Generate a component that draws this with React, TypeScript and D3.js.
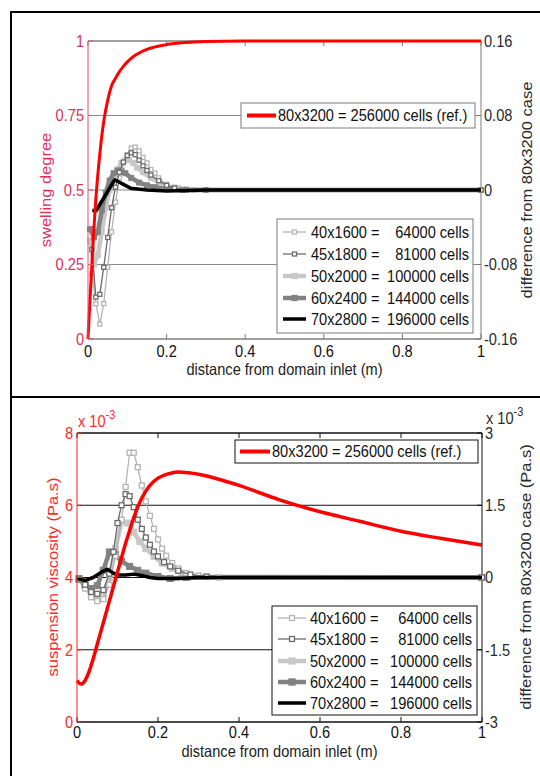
import React from 'react';
import * as d3 from 'd3';

const FONT = "'Liberation Sans', Arial, Helvetica, sans-serif";
const FS = 14.6;
const STRETCH = 1.13;

// ---------------- shared ----------------
const xTickValues = [0, 0.2, 0.4, 0.6, 0.8, 1];
const xTickLabels = ['0', '0.2', '0.4', '0.6', '0.8', '1'];
const xAxisTitle = 'distance from domain inlet (m)';
const refLegendLabel = '80x3200 = 256000 cells (ref.)';
const gridLegendLeft = ['40x1600 =', '45x1800 =', '50x2000 =', '60x2400 =', '70x2800 ='];
const gridLegendRight = ['64000 cells', '81000 cells', '100000 cells', '144000 cells', '196000 cells'];

// ---------------- top panel: swelling degree ----------------
const topLeftTicks = [0, 0.25, 0.5, 0.75, 1];
const topLeftTickLabels = ['0', '0.25', '0.5', '0.75', '1'];
const topRightTicks = [-0.16, -0.08, 0, 0.08, 0.16];
const topRightTickLabels = ['-0.16', '-0.08', '0', '0.08', '0.16'];
const topLeftTitle = 'swelling degree';
const topRightTitle = 'difference from 80x3200 case';

const topRefX = [0, 0.005, 0.01, 0.015, 0.02, 0.03, 0.04, 0.05, 0.06, 0.07, 0.08, 0.09, 0.1, 0.12, 0.15, 0.2, 0.25, 0.3, 0.4, 1.0];
const topRefY = [0, 0.13, 0.25, 0.37, 0.47, 0.62, 0.73, 0.8, 0.85, 0.875, 0.897, 0.915, 0.93, 0.952, 0.972, 0.988, 0.995, 0.998, 1, 1];

const top40X = [0.01, 0.02, 0.03, 0.04, 0.05, 0.06, 0.07, 0.08, 0.09, 0.1, 0.11, 0.12, 0.13, 0.14, 0.15, 0.16, 0.17, 0.18, 0.2, 0.22, 0.25, 0.3, 1.0];
const top40Y = [-0.09, -0.122, -0.144, -0.122, -0.083, -0.045, -0.013, 0.013, 0.029, 0.038, 0.045, 0.046, 0.042, 0.035, 0.029, 0.022, 0.018, 0.013, 0.006, 0.003, 0.001, 0, 0];

const top45X = [0.01, 0.02, 0.03, 0.04, 0.05, 0.06, 0.07, 0.08, 0.09, 0.1, 0.11, 0.12, 0.13, 0.14, 0.15, 0.16, 0.18, 0.2, 0.22, 0.25, 0.3, 1.0];
const top45Y = [-0.064, -0.115, -0.112, -0.083, -0.051, -0.019, 0.003, 0.019, 0.03, 0.037, 0.04, 0.038, 0.032, 0.026, 0.021, 0.016, 0.01, 0.005, 0.002, 0, 0, 0];

const top50X = [0.005, 0.015, 0.025, 0.035, 0.045, 0.055, 0.065, 0.075, 0.085, 0.095, 0.105, 0.115, 0.125, 0.14, 0.16, 0.18, 0.2, 0.23, 0.27, 1.0];
const top50Y = [-0.054, -0.08, -0.07, -0.045, -0.019, 0, 0.013, 0.022, 0.029, 0.032, 0.032, 0.029, 0.024, 0.019, 0.013, 0.008, 0.004, 0.002, 0, 0];

const top60X = [0.005, 0.015, 0.025, 0.035, 0.045, 0.055, 0.065, 0.075, 0.085, 0.095, 0.11, 0.13, 0.15, 0.17, 0.2, 0.24, 1.0];
const top60Y = [-0.042, -0.051, -0.045, -0.022, -0.003, 0.01, 0.018, 0.021, 0.021, 0.018, 0.013, 0.008, 0.005, 0.003, 0.001, 0, 0];

const top70X = [0.011, 0.021, 0.068, 0.108, 0.15, 0.2, 0.3, 1.0];
const top70Y = [-0.022, -0.022, 0.011, 0.002, 0, -0.001, 0, 0];

// ---------------- bottom panel: suspension viscosity (x 10^-3) ----------------
const botLeftTicks = [0, 2, 4, 6, 8];
const botLeftTickLabels = ['0', '2', '4', '6', '8'];
const botRightTicks = [-3, -1.5, 0, 1.5, 3];
const botRightTickLabels = ['-3', '-1.5', '0', '1.5', '3'];
const botLeftTitle = 'suspension viscosity (Pa.s)';
const botRightTitle = 'difference from 80x3200 case (Pa.s)';

const botRefX = [0, 0.01, 0.02, 0.03, 0.04, 0.05, 0.06, 0.07, 0.08, 0.09, 0.1, 0.11, 0.12, 0.13, 0.14, 0.15, 0.16, 0.18, 0.2, 0.225, 0.25, 0.275, 0.3, 0.35, 0.4, 0.5, 0.6, 0.7, 0.8, 0.9, 1.0];
const botRefY = [1.15, 1.05, 1.15, 1.4, 1.75, 2.15, 2.55, 2.95, 3.35, 3.75, 4.15, 4.55, 4.95, 5.3, 5.65, 5.95, 6.2, 6.55, 6.75, 6.87, 6.92, 6.9, 6.86, 6.72, 6.55, 6.15, 5.82, 5.55, 5.28, 5.08, 4.9];

const bot40X = [0.005, 0.02, 0.035, 0.05, 0.065, 0.08, 0.095, 0.11, 0.12, 0.13, 0.14, 0.15, 0.16, 0.17, 0.18, 0.19, 0.2, 0.21, 0.22, 0.235, 0.25, 0.27, 0.3, 0.35, 1.0];
const bot40Y = [-0.04, -0.23, -0.41, -0.49, -0.45, -0.15, 0.45, 1.2, 1.88, 2.59, 2.59, 2.29, 1.91, 1.58, 1.28, 1.01, 0.79, 0.6, 0.45, 0.3, 0.19, 0.09, 0.04, 0, 0];

const bot45X = [0.005, 0.02, 0.035, 0.05, 0.065, 0.08, 0.09, 0.1, 0.11, 0.12, 0.13, 0.14, 0.15, 0.16, 0.17, 0.18, 0.19, 0.2, 0.215, 0.23, 0.25, 0.28, 0.32, 1.0];
const bot45Y = [-0.04, -0.15, -0.3, -0.34, -0.26, 0.08, 0.53, 1.13, 1.5, 1.73, 1.69, 1.46, 1.2, 1.01, 0.83, 0.68, 0.54, 0.44, 0.32, 0.23, 0.14, 0.06, 0.02, 0];

const bot50X = [0.005, 0.02, 0.035, 0.05, 0.065, 0.08, 0.095, 0.11, 0.125, 0.14, 0.155, 0.17, 0.19, 0.21, 0.235, 0.26, 0.3, 1.0];
const bot50Y = [-0.04, -0.19, -0.34, -0.41, -0.34, 0, 0.6, 1.16, 1.13, 0.94, 0.75, 0.6, 0.44, 0.3, 0.19, 0.09, 0.02, 0];

const bot60X = [0.005, 0.02, 0.035, 0.05, 0.065, 0.08, 0.095, 0.11, 0.13, 0.15, 0.17, 0.2, 0.23, 0.27, 1.0];
const bot60Y = [-0.02, -0.15, -0.23, -0.17, 0.15, 0.53, 0.47, 0.34, 0.23, 0.15, 0.09, 0.02, -0.02, 0, 0];

const bot70X = [0, 0.02, 0.04, 0.06, 0.075, 0.09, 0.1, 0.12, 0.14, 0.16, 0.18, 0.2, 0.25, 0.3, 1.0];
const bot70Y = [-0.02, -0.06, 0, 0.11, 0.17, 0.09, 0.05, 0.05, 0.07, 0.04, 0, -0.02, -0.02, 0, 0];

// ---------------- styles ----------------
type Style = { color: string; width: number; marker: 'open' | 'filled' | 'none'; size: number };
const gridStyles: Style[] = [
  { color: '#b4b4b4', width: 1.3, marker: 'open', size: 4.5 },
  { color: '#6c6c6c', width: 1.3, marker: 'open', size: 4.5 },
  { color: '#c8c8c8', width: 4.5, marker: 'filled', size: 5.5 },
  { color: '#828282', width: 4.5, marker: 'filled', size: 5.5 },
  { color: '#000000', width: 3.5, marker: 'none', size: 0 },
];
const drawOrder = [2, 3, 0, 1, 4];

// text with the reference's vertical stretch
function T(props: { x: number; y: number; anchor?: string; fill: string; rot?: boolean; mid?: boolean; children: React.ReactNode }) {
  const { x, y, anchor, fill, rot, mid, children } = props;
  const tr = rot
    ? `translate(${x},${y}) scale(1,${STRETCH}) rotate(-90)`
    : `translate(${x},${y}) scale(1,${STRETCH})`;
  return (
    <text transform={tr} textAnchor={anchor || 'start'} dy={mid ? '0.36em' : undefined} fill={fill}>{children}</text>
  );
}

type PanelCfg = {
  x0: number; x1: number; yTop: number; yBot: number;
  leftDomain: [number, number]; rightDomain: [number, number];
  leftTicks: number[]; leftLabels: string[]; rightTicks: number[]; rightLabels: string[];
  leftTitle: string; rightTitle: string;
  leftColor: string; leftLabelColor: string; axisColor: string; gridColor: string; rightLabelColor: string;
  refX: number[]; refY: number[];
  gx: number[][]; gy: number[][];
  refColor: string; refWidth: number;
  leftTitleX: number; rightTitleX: number; titleCY: number;
  refBox: [number, number, number, number]; refSample: [number, number];
  gridBox: [number, number, number, number]; gridSample: [number, number]; gridTextX: number; gridTextEnd: number; gridRows: number[];
  xTickBase: number; xTitleBase: number; markerScale: number;
  exponent: boolean;
};

function Panel({ c }: { c: PanelCfg }) {
  const x = d3.scaleLinear().domain([0, 1]).range([c.x0, c.x1]);
  const yL = d3.scaleLinear().domain(c.leftDomain).range([c.yBot, c.yTop]);
  const yR = d3.scaleLinear().domain(c.rightDomain).range([c.yBot, c.yTop]);
  const lineL = d3.line<[number, number]>().x(d => x(d[0])).y(d => yL(d[1])).curve(d3.curveMonotoneX);
  const lineR = d3.line<[number, number]>().x(d => x(d[0])).y(d => yR(d[1]));
  const refPts = c.refX.map((v, i) => [v, c.refY[i]] as [number, number]);
  const tick = 5;
  const refCY = (c.refBox[1] + c.refBox[3]) / 2;
  return (
    <g fontFamily={FONT} fontSize={FS}>
      {c.rightTicks.map((t, i) => (
        <line key={'g' + i} x1={c.x0} x2={c.x1} y1={yR(t)} y2={yR(t)} stroke={c.gridColor} strokeWidth={1} />
      ))}
      <line x1={c.x0} x2={c.x1} y1={c.yBot} y2={c.yBot} stroke={c.axisColor} strokeWidth={1} />
      <line x1={c.x0} x2={c.x1} y1={c.yTop} y2={c.yTop} stroke={c.axisColor} strokeWidth={1} />
      <line x1={c.x1} x2={c.x1} y1={c.yTop} y2={c.yBot} stroke={c.axisColor} strokeWidth={1} />
      {xTickValues.map((t, i) => (
        <g key={'xt' + i}>
          <line x1={x(t)} x2={x(t)} y1={c.yBot} y2={c.yBot - tick} stroke={c.axisColor} />
          <line x1={x(t)} x2={x(t)} y1={c.yTop} y2={c.yTop + tick} stroke={c.axisColor} />
          <T x={x(t)} y={c.xTickBase} anchor="middle" fill="#111">{xTickLabels[i]}</T>
        </g>
      ))}
      <T x={(c.x0 + c.x1) / 2} y={c.xTitleBase} anchor="middle" fill="#222">{xAxisTitle}</T>
      {c.rightTicks.map((t, i) => (
        <g key={'rt' + i}>
          <line x1={c.x1} x2={c.x1 - tick} y1={yR(t)} y2={yR(t)} stroke={c.axisColor} />
          <T x={c.x1 + 3} y={yR(t)} mid fill={c.rightLabelColor}>{c.rightLabels[i]}</T>
        </g>
      ))}
      <T x={c.rightTitleX} y={c.titleCY} rot mid anchor="middle" fill={c.rightLabelColor}>{c.rightTitle}</T>
      {drawOrder.map(k => {
        const st = gridStyles[k];
        const pts = c.gx[k].map((v, i) => [v, c.gy[k][i]] as [number, number]);
        const s = st.size * c.markerScale;
        return (
          <g key={'s' + k}>
            <path d={lineR(pts) || ''} fill="none" stroke={st.color} strokeWidth={st.width} strokeLinejoin="round" />
            {st.marker !== 'none' && pts.map((p, i) => (
              <rect key={i} x={x(p[0]) - s / 2} y={yR(p[1]) - s / 2} width={s} height={s}
                fill={st.marker === 'filled' ? st.color : 'white'} stroke={st.color} strokeWidth={st.marker === 'open' ? 1.3 : 1} />
            ))}
          </g>
        );
      })}
      <path d={lineL(refPts) || ''} fill="none" stroke={c.refColor} strokeWidth={c.refWidth} strokeLinejoin="round" />
      <line x1={c.x0} x2={c.x0} y1={c.yTop} y2={c.yBot} stroke={c.leftColor} strokeWidth={1} />
      {c.leftTicks.map((t, i) => (
        <g key={'lt' + i}>
          <line x1={c.x0} x2={c.x0 + tick} y1={yL(t)} y2={yL(t)} stroke={c.leftColor} />
          <T x={c.x0 - 4} y={yL(t)} mid anchor="end" fill={c.leftLabelColor}>{c.leftLabels[i]}</T>
        </g>
      ))}
      <T x={c.leftTitleX} y={c.titleCY} rot mid anchor="middle" fill={c.leftLabelColor}>{c.leftTitle}</T>
      {c.exponent && (
        <g>
          <T x={c.x0 + 1} y={c.yTop - 6} fill={c.leftLabelColor}>x 10<tspan dy={-7} fontSize={11}>-3</tspan></T>
          <T x={c.x1 + 4} y={c.yTop - 9} fill={c.rightLabelColor}>x 10<tspan dy={-7} fontSize={11}>-3</tspan></T>
        </g>
      )}
      <rect x={c.refBox[0]} y={c.refBox[1]} width={c.refBox[2] - c.refBox[0]} height={c.refBox[3] - c.refBox[1]}
        fill="white" stroke={c.axisColor} strokeWidth={1} />
      <line x1={c.refSample[0]} x2={c.refSample[1]} y1={refCY} y2={refCY} stroke={c.refColor} strokeWidth={4} />
      <T x={c.refSample[1] + 2} y={refCY} mid fill="#111">{refLegendLabel}</T>
      <rect x={c.gridBox[0]} y={c.gridBox[1]} width={c.gridBox[2] - c.gridBox[0]} height={c.gridBox[3] - c.gridBox[1]}
        fill="white" stroke={c.axisColor} strokeWidth={1} />
      {gridStyles.map((st, k) => {
        const yy = c.gridRows[k];
        const mx = (c.gridSample[0] + c.gridSample[1]) / 2;
        const s = st.size * c.markerScale;
        return (
          <g key={'lg' + k}>
            <line x1={c.gridSample[0]} x2={c.gridSample[1]} y1={yy} y2={yy} stroke={st.color} strokeWidth={st.width} />
            {st.marker !== 'none' && (
              <rect x={mx - s / 2} y={yy - s / 2} width={s} height={s}
                fill={st.marker === 'filled' ? st.color : 'white'} stroke={st.color} strokeWidth={1.3} />
            )}
            <T x={c.gridTextX} y={yy} mid fill="#111">{gridLegendLeft[k]}</T>
            <T x={c.gridTextEnd} y={yy} mid anchor="end" fill="#111">{gridLegendRight[k]}</T>
          </g>
        );
      })}
    </g>
  );
}

export default function App() {
  const topCfg: PanelCfg = {
    x0: 88, x1: 481, yTop: 41, yBot: 339,
    leftDomain: [0, 1], rightDomain: [-0.16, 0.16],
    leftTicks: topLeftTicks, leftLabels: topLeftTickLabels, rightTicks: topRightTicks, rightLabels: topRightTickLabels,
    leftTitle: topLeftTitle, rightTitle: topRightTitle,
    leftColor: '#e8506e', leftLabelColor: '#e0305a', axisColor: '#7a7a7a', gridColor: '#8a8a8a', rightLabelColor: '#2a2a2a',
    refX: topRefX, refY: topRefY,
    gx: [top40X, top45X, top50X, top60X, top70X], gy: [top40Y, top45Y, top50Y, top60Y, top70Y],
    refColor: '#ff0000', refWidth: 3,
    leftTitleX: 46, rightTitleX: 527, titleCY: 190,
    refBox: [241, 103, 475, 128], refSample: [247, 276],
    gridBox: [277, 219, 473, 333], gridSample: [283, 306], gridTextX: 311, gridTextEnd: 469, gridRows: [232, 254, 276, 298, 319],
    xTickBase: 357, xTitleBase: 375, markerScale: 0.9, exponent: false,
  };
  const botCfg: PanelCfg = {
    x0: 77, x1: 482, yTop: 433, yBot: 722,
    leftDomain: [0, 8], rightDomain: [-3, 3],
    leftTicks: botLeftTicks, leftLabels: botLeftTickLabels, rightTicks: botRightTicks, rightLabels: botRightTickLabels,
    leftTitle: botLeftTitle, rightTitle: botRightTitle,
    leftColor: '#ff2020', leftLabelColor: '#ff2a2a', axisColor: '#111', gridColor: '#111', rightLabelColor: '#2a2a2a',
    refX: botRefX, refY: botRefY,
    gx: [bot40X, bot45X, bot50X, bot60X, bot70X], gy: [bot40Y, bot45Y, bot50Y, bot60Y, bot70Y],
    refColor: '#ff0000', refWidth: 3.5,
    leftTitleX: 53, rightTitleX: 526, titleCY: 577,
    refBox: [235, 440, 478, 463], refSample: [240, 270],
    gridBox: [272, 606, 477, 715], gridSample: [278, 306], gridTextX: 310, gridTextEnd: 472, gridRows: [618, 639, 661, 682, 703],
    xTickBase: 738, xTitleBase: 757, markerScale: 1.1, exponent: true,
  };
  return (
    <svg width={540} height={776} style={{ position: 'absolute', left: 0, top: 0, background: 'white' }}>
      <rect x={0} y={0} width={540} height={776} fill="white" />
      <rect x={11} y={12} width={540} height={385} fill="none" stroke="#000" strokeWidth={2} />
      <rect x={11} y={397} width={540} height={390} fill="none" stroke="#000" strokeWidth={2} />
      <Panel c={topCfg} />
      <Panel c={botCfg} />
    </svg>
  );
}
